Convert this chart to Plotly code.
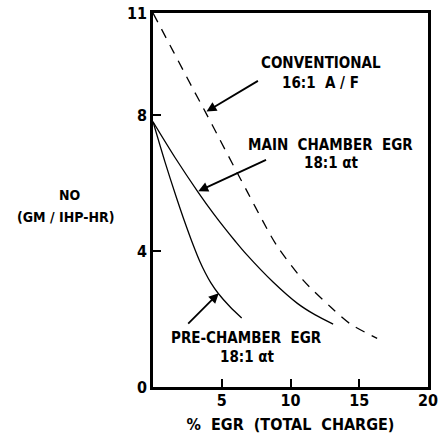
import plotly.graph_objects as go

# Data
conv_x = [0.0, 1.5, 2.8, 3.9, 4.65, 6.1, 6.9, 8.0, 9.0, 10.9, 12.9, 14.3, 16.3]
conv_y = [11.0, 9.85, 8.85, 8.02, 7.44, 6.32, 5.71, 4.87, 4.16, 3.15, 2.36, 1.87, 1.43]

main_x = [0.0, 1.6, 3.3, 4.4, 5.2, 6.0, 6.8, 8.75, 10.5, 11.8, 13.1]
main_y = [7.8, 6.75, 5.72, 5.1, 4.68, 4.28, 3.9, 3.08, 2.46, 2.12, 1.85]

pre_x = [0.0, 0.87, 1.72, 2.2, 2.93, 3.4, 3.8, 4.2, 4.75, 5.6, 6.45]
pre_y = [7.8, 6.62, 5.55, 4.98, 4.17, 3.7, 3.36, 3.07, 2.75, 2.36, 2.03]

x_ticks = [5, 10, 15, 20]
y_ticks = [0, 4, 8, 11]

FONT = "Liberation Sans Narrow, Arial Narrow, DejaVu Sans Condensed, sans-serif"

fig = go.Figure()
fig.add_trace(go.Scatter(x=conv_x, y=conv_y, mode="lines",
                         line=dict(color="black", width=1.3, dash="10px,8px", shape="spline", smoothing=0.8),
                         showlegend=False))
fig.add_trace(go.Scatter(x=main_x, y=main_y, mode="lines",
                         line=dict(color="black", width=1.3, shape="spline", smoothing=0.8), showlegend=False))
fig.add_trace(go.Scatter(x=pre_x, y=pre_y, mode="lines",
                         line=dict(color="black", width=1.3, shape="spline", smoothing=0.8), showlegend=False))

def txt(x, y, s, size=15):
    fig.add_annotation(x=x, y=y, xref="x", yref="y", text="<b>" + s + "</b>", showarrow=False,
                       font=dict(family=FONT, size=size, color="black"), xanchor="center", yanchor="middle")

def arrow(x, y, ax, ay):
    fig.add_annotation(x=x, y=y, ax=ax, ay=ay, xref="x", yref="y", axref="x", ayref="y", text="",
                       showarrow=True, arrowhead=2, arrowsize=1.1, arrowwidth=1.8, arrowcolor="black")

txt(12.19, 9.53, "CONVENTIONAL")
txt(12.19, 8.94, "16:1  A / F")
arrow(3.89, 8.10, 7.74, 9.03)

txt(12.9, 7.12, "MAIN  CHAMBER  EGR")
txt(13.0, 6.59, "18:1 αt")
arrow(3.29, 5.76, 8.33, 6.70)

txt(6.78, 1.43, "PRE-CHAMBER  EGR")
txt(6.89, 0.89, "18:1 αt")
arrow(4.78, 2.76, 2.45, 1.82)

fig.add_annotation(x=-0.302, y=0.513, xref="paper", yref="paper", text="<b>NO</b>", showarrow=False,
                   xanchor="center", yanchor="middle",
                   font=dict(family=FONT, size=14, color="black"))
fig.add_annotation(x=-0.32, y=0.455, xref="paper", yref="paper", text="<b>(GM / IHP-HR)</b>", showarrow=False,
                   xanchor="center", yanchor="middle",
                   font=dict(family=FONT, size=14, color="black"))

fig.update_layout(
    template="none",
    width=438, height=434,
    margin=dict(l=153, r=10, t=13, b=47, autoexpand=False),
    paper_bgcolor="white", plot_bgcolor="white",
    font=dict(family=FONT, size=15, color="black"),
    xaxis=dict(range=[0, 20], tickvals=x_ticks, ticktext=[f"<b>{v}</b>" for v in x_ticks],
               ticks="inside", ticklen=8, tickwidth=2, tickcolor="black", automargin=False,
               ticklabeloverflow="allow", ticklabelstandoff=-3,
               showline=True, linecolor="black", linewidth=2.5, mirror=True, showgrid=False, zeroline=False,
               title=dict(text="<b>%  EGR  (TOTAL  CHARGE)</b>", font=dict(family=FONT, size=16)),
               tickfont=dict(family=FONT, size=16)),
    yaxis=dict(range=[0, 11], tickvals=y_ticks, ticktext=[f"<b>{v}</b>" for v in y_ticks],
               ticks="inside", ticklen=8, tickwidth=2, tickcolor="black", automargin=False,
               ticklabeloverflow="allow",
               showline=True, linecolor="black", linewidth=2.5, mirror=True, showgrid=False, zeroline=False,
               tickfont=dict(family=FONT, size=16)),
)

fig.write_html("out.html")
